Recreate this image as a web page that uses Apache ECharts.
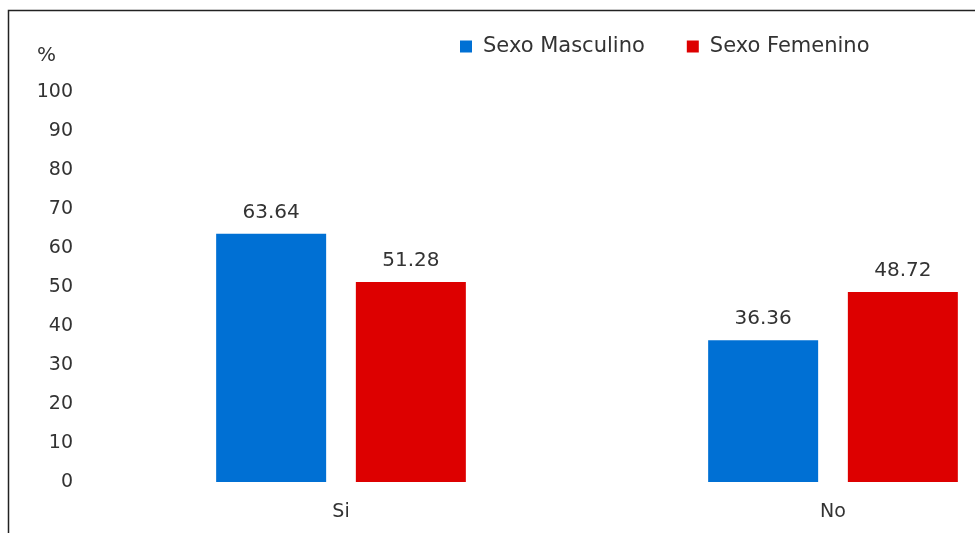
<!DOCTYPE html>
<html><head><meta charset="utf-8">
<script src="https://cdn.jsdelivr.net/npm/echarts@6/dist/echarts.min.js"></script>
<style>html,body{margin:0;padding:0;background:#fff;overflow:hidden;width:975px;height:533px}#c{width:1100px;height:533px}</style>
</head><body><div id="c"></div>
<script>
const categories = ['Si', 'No'];
const masculino = [63.64, 36.36];
const femenino = [51.28, 48.72];
const seriesNames = ['Sexo Masculino', 'Sexo Femenino'];

const font = '"DejaVu Sans", "Noto Sans", sans-serif';
const chart = echarts.init(document.getElementById('c'));
chart.setOption({
  animation: false,
  textStyle: { fontFamily: font },
  graphic: [
    { type: 'rect', shape: { x: 8.5, y: 10.5, width: 1200, height: 600 }, style: { fill: 'none', stroke: '#222', lineWidth: 1.5 }, z: 0 },
    { type: 'text', left: 37, top: 46, style: { text: '%', fontSize: 20, fontFamily: font, fill: '#333' } }
  ],
  legend: {
    data: seriesNames, left: 455, top: 31, itemWidth: 12, itemHeight: 12, itemGap: 42,
    icon: 'rect',
    textStyle: { fontSize: 21, color: '#333', fontFamily: font, padding: [0, 0, 0, 6] }
  },
  grid: { left: 95, top: 92, width: 984, height: 390 },
  xAxis: {
    type: 'category', data: categories,
    axisLine: { show: false }, axisTick: { show: false },
    axisLabel: { fontSize: 19, color: '#333', margin: 21, fontFamily: font }
  },
  yAxis: {
    type: 'value', min: 0, max: 100, interval: 10,
    splitLine: { show: false }, axisLine: { show: false }, axisTick: { show: false },
    axisLabel: { fontSize: 19, color: '#333', margin: 22, fontFamily: font }
  },
  series: [
    { name: seriesNames[0], type: 'bar', data: masculino, barWidth: 110, barGap: '27%',
      itemStyle: { color: '#0070D4' },
      label: { show: true, position: 'top', distance: 11, fontSize: 20, color: '#333', fontFamily: font, formatter: p => p.value.toFixed(2) } },
    { name: seriesNames[1], type: 'bar', data: femenino, barWidth: 110,
      itemStyle: { color: '#DD0000' },
      label: { show: true, position: 'top', distance: 11, fontSize: 20, color: '#333', fontFamily: font, formatter: p => p.value.toFixed(2) } }
  ]
});
</script></body></html>
